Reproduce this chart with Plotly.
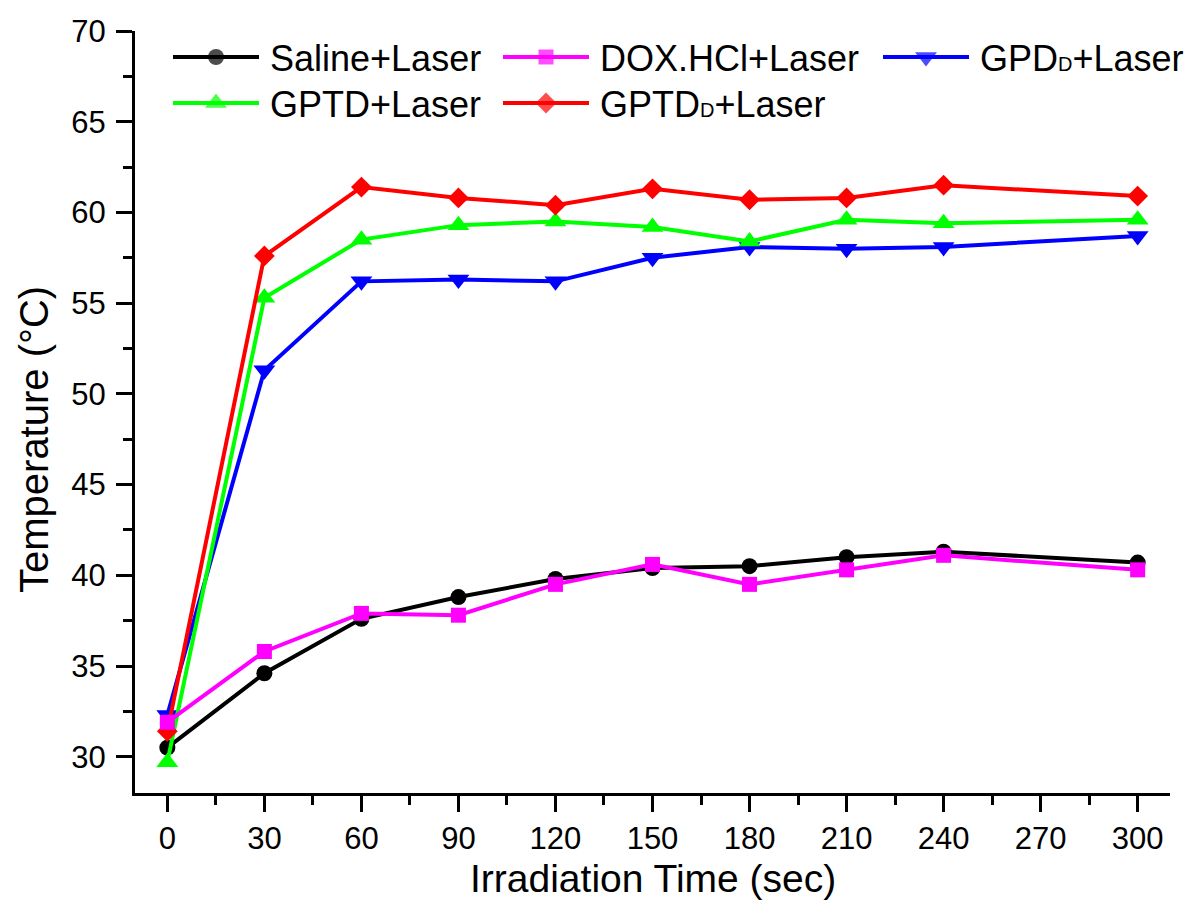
import plotly.graph_objects as go

# Irradiation time points (sec)
time_sec = [0, 30, 60, 90, 120, 150, 180, 210, 240, 300]

# Temperature readings (°C) for each treatment group
saline_laser = [30.5, 34.6, 37.6, 38.8, 39.8, 40.4, 40.5, 41.0, 41.3, 40.7]
dox_hcl_laser = [31.9, 35.8, 37.9, 37.8, 39.5, 40.6, 39.5, 40.3, 41.1, 40.3]
gpdd_laser = [32.3, 51.3, 56.2, 56.3, 56.2, 57.5, 58.1, 58.0, 58.1, 58.7]
gptd_laser = [29.7, 55.3, 58.5, 59.3, 59.5, 59.2, 58.4, 59.6, 59.4, 59.6]
gptdd_laser = [31.4, 57.6, 61.4, 60.8, 60.4, 61.3, 60.7, 60.8, 61.5, 60.9]

x_ticks = [0, 30, 60, 90, 120, 150, 180, 210, 240, 270, 300]
y_ticks = [30, 35, 40, 45, 50, 55, 60, 65, 70]

FONT = "Liberation Sans, Arial, sans-serif"
SUB = "<span style='font-size:20px'>D</span>"

# Plot area in pixels (used to place legend rows and titles)
PLOT_L, PLOT_R, PLOT_T, PLOT_B = 135, 1170, 31, 793


def paper_x(px):
    return (px - PLOT_L) / (PLOT_R - PLOT_L)


def paper_y(py):
    return (PLOT_B - py) / (PLOT_B - PLOT_T)


series = [
    # name, values, color, symbol, marker size
    ("Saline+Laser", saline_laser, "#000000", "circle", 16),
    ("GPD" + SUB + "+Laser", gpdd_laser, "#0000FF", "triangle-down", 19),
    ("GPTD+Laser", gptd_laser, "#00FF00", "triangle-up", 19),
    ("GPTD" + SUB + "+Laser", gptdd_laser, "#FF0000", "diamond", 16),
    ("DOX.HCl+Laser", dox_hcl_laser, "#FF00FF", "square", 15),
]

fig = go.Figure()

for name, vals, color, symbol, msize in series:
    fig.add_trace(go.Scatter(
        x=time_sec, y=vals, mode="lines+markers", name=name,
        line=dict(color=color, width=4),
        marker=dict(symbol=symbol, size=msize, color=color, line=dict(width=0)),
        showlegend=False, cliponaxis=False,
    ))

# Hand-laid legend on a pixel-scaled overlay axis (x: 135..1170, y: 793..31)
legend_rows = {
    "Saline+Laser": (173, 57),
    "DOX.HCl+Laser": (503, 57),
    "GPD" + SUB + "+Laser": (883, 57),
    "GPTD+Laser": (173, 103),
    "GPTD" + SUB + "+Laser": (503, 103),
}
for name, vals, color, symbol, msize in series:
    lx, ly = legend_rows[name]
    fig.add_trace(go.Scatter(
        x=[lx, lx + 43, lx + 86], y=[ly, ly, ly], mode="lines+markers",
        line=dict(color=color, width=4),
        marker=dict(symbol=symbol, size=[0, msize, 0], color=color, line=dict(width=0)),
        xaxis="x2", yaxis="y2", showlegend=False, hoverinfo="skip", cliponaxis=False,
    ))
    fig.add_annotation(
        x=lx + 95, y=ly + 1, xref="x2", yref="y2", text=name, showarrow=False,
        xanchor="left", yanchor="middle", font=dict(family=FONT, size=36, color="#000000"),
    )

# Axis titles
fig.add_annotation(
    x=paper_x(652.5), y=paper_y(878), xref="paper", yref="paper",
    text="Irradiation Time (sec)", showarrow=False,
    xanchor="center", yanchor="middle", font=dict(family=FONT, size=39, color="#000000"),
)
fig.add_annotation(
    x=paper_x(34), y=paper_y(440), xref="paper", yref="paper",
    text="Temperature (°C)", showarrow=False,
    textangle=-90, xanchor="center", yanchor="middle",
    font=dict(family=FONT, size=40, color="#000000"),
)

axis_common = dict(
    showgrid=False, zeroline=False, showline=True, linecolor="#000000", linewidth=3,
    ticks="outside", ticklen=16, tickwidth=3, tickcolor="#000000",
    tickfont=dict(family=FONT, size=31, color="#000000"),
)

fig.update_layout(
    width=1195, height=900,
    margin=dict(l=PLOT_L, r=1195 - PLOT_R, t=PLOT_T, b=900 - PLOT_B),
    paper_bgcolor="#FFFFFF", plot_bgcolor="#FFFFFF",
    xaxis=dict(
        range=[-10, 310], tickvals=x_ticks, ticktext=[str(v) for v in x_ticks],
        minor=dict(dtick=15, tick0=0, ticks="outside", ticklen=9, tickwidth=3, tickcolor="#000000"),
        **axis_common,
    ),
    yaxis=dict(
        range=[28, 70], tickvals=y_ticks, ticktext=[str(v) for v in y_ticks],
        minor=dict(dtick=2.5, tick0=0, ticks="outside", ticklen=9, tickwidth=3, tickcolor="#000000"),
        ticklabelstandoff=4,
        **axis_common,
    ),
    xaxis2=dict(range=[PLOT_L, PLOT_R], overlaying="x", anchor="y2", visible=False, fixedrange=True),
    yaxis2=dict(range=[PLOT_B, PLOT_T], overlaying="y", anchor="x2", visible=False, fixedrange=True),
)

fig.write_html("out.html")
